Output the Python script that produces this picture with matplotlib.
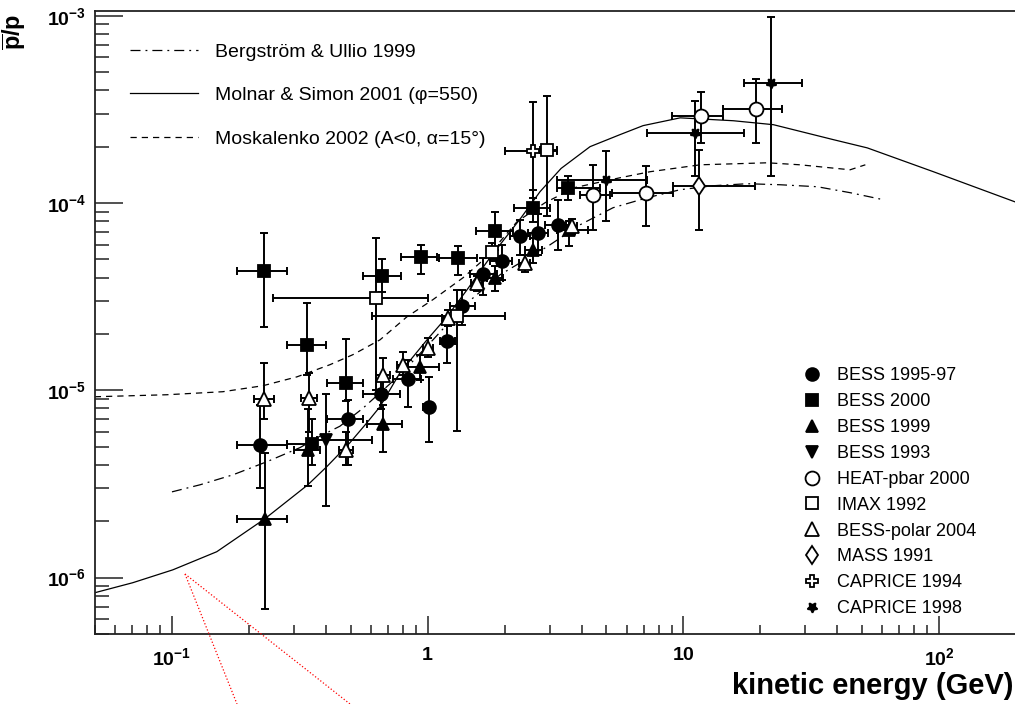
#!/usr/bin/env python3
# antiproton / proton ratio vs kinetic energy, data + three model curves
import numpy as np
import matplotlib
matplotlib.use('Agg')
import matplotlib.pyplot as plt
from matplotlib.lines import Line2D
from matplotlib.ticker import LogLocator, NullFormatter

plt.rcParams['font.family'] = ['Liberation Sans', 'DejaVu Sans']
plt.rcParams['mathtext.fontset'] = 'custom'
plt.rcParams['mathtext.rm'] = 'Liberation Sans'
plt.rcParams['mathtext.it'] = 'Liberation Sans:italic'
plt.rcParams['mathtext.bf'] = 'Liberation Sans:bold'

# ---------------- model curves ----------------
berg_x = [0.1, 0.1287, 0.1733, 0.2353, 0.3163, 0.379, 0.4536, 0.558, 0.779, 1.049, 1.40,
          1.919, 2.93, 3.95, 5.31, 7.22, 9.72, 13.08, 17.77, 23.9, 33.4, 45.0, 60.5]
berg_y = [2.87e-6, 3.13e-6, 3.54e-6, 4.16e-6, 4.94e-6, 5.69e-6, 6.43e-6, 8.02e-6, 1.21e-5,
          1.86e-5, 2.86e-5, 4.14e-5, 5.84e-5, 7.66e-5, 9.44e-5, 1.067e-4, 1.178e-4, 1.237e-4,
          1.268e-4, 1.252e-4, 1.222e-4, 1.135e-4, 1.042e-4]

molnar_x = [0.05, 0.0702, 0.1007, 0.1497, 0.2307, 0.340, 0.403, 0.4965, 0.5786, 0.6507, 0.779,
            0.994, 1.19, 1.425, 1.707, 1.919, 2.318, 2.751, 3.325, 4.317, 5.66, 6.96, 9.72,
            15.7, 22.5, 38.6, 52.4, 95.0, 200.0]
molnar_y = [8.31e-7, 9.39e-7, 1.10e-6, 1.375e-6, 2.06e-6, 3.13e-6, 3.91e-6, 5.25e-6, 6.71e-6,
            8.17e-6, 1.24e-5, 1.86e-5, 2.47e-5, 3.44e-5, 4.86e-5, 5.99e-5, 8.34e-5, 1.15e-4,
            1.53e-4, 2.00e-4, 2.32e-4, 2.59e-4, 2.85e-4, 2.75e-4, 2.62e-4, 2.18e-4, 1.97e-4,
            1.47e-4, 1.01e-4]

mosk_x = [0.0499, 0.0952, 0.158, 0.2267, 0.308, 0.4146, 0.51, 0.651, 0.83, 1.049, 1.375, 1.707,
          2.236, 2.878, 3.77, 5.66, 7.42, 11.64, 21.3, 28.6, 44.9, 51.5]
mosk_y = [9.24e-6, 9.47e-6, 9.83e-6, 1.058e-5, 1.18e-5, 1.37e-5, 1.55e-5, 1.86e-5, 2.47e-5,
          3.05e-5, 3.99e-5, 5.17e-5, 7.95e-5, 1.004e-4, 1.21e-4, 1.365e-4, 1.47e-4, 1.60e-4,
          1.64e-4, 1.60e-4, 1.505e-4, 1.60e-4]

curve_labels = ['Bergström & Ullio 1999', 'Molnar & Simon 2001 (φ=550)',
                'Moskalenko 2002 (A<0, α=15°)']

# ---------------- measurements ----------------
# columns: E, pbar/p, E_low, E_high, ratio_low, ratio_high
bess9597 = np.array([
    [0.221, 5.1e-6, 0.179, 0.281, 3.0e-6, 8.4e-6],
    [0.488, 7.0e-6, 0.404, 0.558, 4.0e-6, 8.9e-6],
    [0.657, 9.6e-6, 0.558, 0.779, 7.9e-6, 1.21e-5],
    [0.837, 1.15e-5, 0.731, 0.941, 8.1e-6, 1.46e-5],
    [1.01, 8.1e-6, 0.958, 1.05, 5.3e-6, 1.18e-5],
    [1.19, 1.84e-5, 1.12, 1.28, 1.40e-5, 2.47e-5],
    [1.36, 2.83e-5, 1.22, 1.53, 2.24e-5, 3.44e-5],
    [1.65, 4.2e-5, 1.46, 1.87, 3.24e-5, 5.1e-5],
    [1.95, 4.9e-5, 1.75, 2.14, 3.9e-5, 6.0e-5],
    [2.30, 6.7e-5, 2.10, 2.51, 5.3e-5, 8.1e-5],
    [2.70, 6.9e-5, 2.47, 2.96, 5.3e-5, 8.7e-5],
    [3.24, 7.6e-5, 2.88, 3.67, 5.6e-5, 1.04e-4],
])
bess2000 = np.array([
    [0.230, 4.35e-5, 0.179, 0.282, 2.19e-5, 6.94e-5],
    [0.338, 1.74e-5, 0.282, 0.402, 1.21e-5, 2.94e-5],
    [0.352, 5.2e-6, 0.281, 0.368, 4.0e-6, 7.0e-6],
    [0.479, 1.10e-5, 0.403, 0.557, 8.8e-6, 1.88e-5],
    [0.661, 4.06e-5, 0.559, 0.786, 3.36e-5, 5.02e-5],
    [0.939, 5.15e-5, 0.786, 1.085, 4.19e-5, 5.99e-5],
    [1.318, 5.09e-5, 1.11, 1.555, 4.15e-5, 5.93e-5],
    [1.834, 7.05e-5, 1.545, 2.163, 5.63e-5, 8.91e-5],
    [2.576, 9.4e-5, 2.177, 3.01, 7.95e-5, 1.18e-4],
    [3.55, 1.20e-4, 3.21, 4.73, 1.04e-4, 1.40e-4],
])
bess1999 = np.array([
    [0.231, 2.06e-6, 0.179, 0.282, 6.8e-7, 4.6e-6],
    [0.341, 4.8e-6, 0.30, 0.38, 3.1e-6, 7.9e-6],
    [0.667, 6.6e-6, 0.577, 0.791, 4.7e-6, 8.4e-6],
    [0.933, 1.34e-5, 0.82, 1.107, 1.14e-5, 1.55e-5],
    [1.83, 3.98e-5, 1.70, 1.97, 3.4e-5, 4.6e-5],
    [2.59, 5.6e-5, 2.40, 2.80, 4.8e-5, 6.5e-5],
    [3.57, 7.2e-5, 3.20, 4.25, 5.9e-5, 8.0e-5],
])
bess1993 = np.array([
    [0.400, 5.45e-6, 0.368, 0.604, 2.42e-6, 9.6e-6],
])
heat2000 = np.array([
    [4.45, 1.11e-4, 3.95, 5.17, 7.2e-5, 1.60e-4],
    [7.15, 1.13e-4, 5.25, 9.15, 7.5e-5, 1.57e-4],
    [11.74, 2.90e-4, 9.02, 14.35, 2.09e-4, 3.91e-4],
    [19.2, 3.18e-4, 14.35, 24.3, 2.09e-4, 4.59e-4],
])
imax1992 = np.array([
    [0.628, 3.12e-5, 0.249, 1.0, 1.01e-5, 6.51e-5],
    [1.30, 2.50e-5, 0.604, 2.007, 6.04e-6, 3.44e-5],
    [1.78, 5.5e-5, 1.70, 1.87, 5.0e-5, 6.1e-5],
    [2.92, 1.93e-4, 2.75, 3.20, 8.48e-5, 3.71e-4],
])
besspolar = np.array([
    [0.229, 9.0e-6, 0.21, 0.25, 7.0e-6, 1.40e-5],
    [0.343, 9.1e-6, 0.32, 0.37, 6.0e-6, 1.24e-5],
    [0.479, 4.8e-6, 0.45, 0.51, 4.0e-6, 6.0e-6],
    [0.667, 1.21e-5, 0.63, 0.71, 1.01e-5, 1.49e-5],
    [0.798, 1.37e-5, 0.76, 0.84, 1.2e-5, 1.6e-5],
    [1.005, 1.68e-5, 0.96, 1.05, 1.5e-5, 1.9e-5],
    [1.20, 2.43e-5, 1.14, 1.26, 2.2e-5, 2.7e-5],
    [1.555, 3.74e-5, 1.48, 1.63, 3.4e-5, 4.1e-5],
    [2.40, 4.78e-5, 2.28, 2.52, 4.3e-5, 5.3e-5],
    [3.66, 7.5e-5, 3.48, 3.85, 6.8e-5, 8.2e-5],
])
mass1991 = np.array([
    [11.56, 1.24e-4, 9.12, 19.1, 7.2e-5, 1.93e-4],
])
caprice1994 = np.array([
    [2.58, 1.89e-4, 2.007, 3.20, 1.07e-4, 3.46e-4],
])
caprice1998 = np.array([
    [4.99, 1.32e-4, 3.20, 7.19, 7.97e-5, 1.89e-4],
    [11.12, 2.37e-4, 7.2, 17.2, 1.39e-4, 3.49e-4],
    [22.0, 4.40e-4, 17.3, 29.1, 1.39e-4, 9.84e-4],
])

series_labels = ['BESS 1995-97', 'BESS 2000', 'BESS 1999', 'BESS 1993', 'HEAT-pbar 2000',
                 'IMAX 1992', 'BESS-polar 2004', 'MASS 1991', 'CAPRICE 1994', 'CAPRICE 1998']

x_ticks = [0.1, 1, 10, 100]
x_tick_labels = [r'$\mathbf{10^{-1}}$', r'$\mathbf{1}$', r'$\mathbf{10}$', r'$\mathbf{10^{2}}$']
y_ticks = [1e-6, 1e-5, 1e-4, 1e-3]
y_tick_labels = [r'$\mathbf{10^{-6}}$', r'$\mathbf{10^{-5}}$', r'$\mathbf{10^{-4}}$',
                 r'$\mathbf{10^{-3}}$']


def draw_series(ax, d, marker, ms, face):
    x, y = d[:, 0], d[:, 1]
    xerr = [x - d[:, 2], d[:, 3] - x]
    yerr = [y - d[:, 4], d[:, 5] - y]
    ax.errorbar(x, y, xerr=xerr, yerr=yerr, fmt='none', ecolor='black',
                elinewidth=1.4, capsize=3.2, capthick=1.4, zorder=3)
    ax.plot(x, y, ls='none', marker=marker, ms=ms, mfc=face, mec='black',
            mew=1.3, zorder=4)


def main():
    fig = plt.figure(figsize=(10.15, 7.04), dpi=100)
    ax = fig.add_axes([95 / 1015, 70 / 704, 921 / 1015, 623 / 704])
    ax.set_xscale('log')
    ax.set_yscale('log')
    ax.set_xlim(0.05, 200)
    ax.set_ylim(5e-7, 1.06e-3)

    # model curves
    ls_dashdot = (0, (8, 4, 1.5, 4))
    ls_dash = (0, (5, 4))
    ax.plot(berg_x, berg_y, color='black', lw=0.9, ls=ls_dashdot, zorder=2)
    ax.plot(molnar_x, molnar_y, color='black', lw=0.9, ls='-', zorder=2)
    ax.plot(mosk_x, mosk_y, color='black', lw=0.9, ls=ls_dash, zorder=2)

    # data
    styles = [
        (bess9597, 'o', 9.2, 'black'),
        (bess2000, 's', 9.2, 'black'),
        (bess1999, '^', 9.0, 'black'),
        (bess1993, 'v', 9.0, 'black'),
        (heat2000, 'o', 10.0, 'white'),
        (imax1992, 's', 9.2, 'white'),
        (besspolar, '^', 9.4, 'white'),
        (mass1991, 'd', 9.4, 'white'),
        (caprice1994, 'P', 8.0, 'white'),
        (caprice1998, (5, 1, 180), 7.5, 'black'),
    ]
    for d, m, ms, fc in styles:
        draw_series(ax, d, m, ms, fc)

    # axes look
    for s in ['left', 'bottom', 'top']:
        ax.spines[s].set_linewidth(1.3)
        ax.spines[s].set_color('#222222')
    ax.spines['right'].set_visible(False)
    ax.set_xticks(x_ticks)
    ax.set_xticklabels(x_tick_labels)
    ax.set_yticks(y_ticks)
    ax.set_yticklabels(y_tick_labels)
    ax.xaxis.set_minor_locator(LogLocator(base=10, subs=np.arange(2, 10), numticks=30))
    ax.yaxis.set_minor_locator(LogLocator(base=10, subs=np.arange(2, 10), numticks=30))
    ax.xaxis.set_minor_formatter(NullFormatter())
    ax.yaxis.set_minor_formatter(NullFormatter())
    ax.tick_params(which='both', direction='in', top=False, right=False,
                   color='#222222', width=1.1, labelsize=14)
    ax.tick_params(axis='y', which='major', length=20, pad=6.5)
    ax.tick_params(axis='y', which='minor', length=10)
    ax.tick_params(axis='x', which='major', length=13, pad=9.5)
    ax.tick_params(axis='x', which='minor', length=6.5)

    # legends
    line_handles = [Line2D([], [], color='black', lw=0.9, ls=ls_dashdot),
                    Line2D([], [], color='black', lw=0.9, ls='-'),
                    Line2D([], [], color='black', lw=0.9, ls=ls_dash)]
    leg1 = ax.legend(line_handles, curve_labels, loc='upper left',
                     bbox_to_anchor=(0.038, 0.948), frameon=False, fontsize=14,
                     handlelength=3.5, handletextpad=0.85, labelspacing=1.32,
                     borderpad=0, borderaxespad=0)
    ax.add_artist(leg1)

    mk_handles = [Line2D([], [], ls='none', marker=m, ms=ms, mfc=fc, mec='black', mew=1.3)
                  for d, m, ms, fc in styles]
    ax.legend(mk_handles, series_labels, loc='upper left',
              bbox_to_anchor=(0.7676, 0.4278), frameon=False, fontsize=13,
              handlelength=1.1, handletextpad=0.85, labelspacing=0.49,
              borderpad=0, borderaxespad=0)

    # axis titles
    fig.text(1013 / 1015, 1 - 686 / 704, 'kinetic energy (GeV)', fontsize=21,
             fontweight='bold', ha='right', va='center')
    fig.text(14 / 1015, 1 - 32 / 704, r'$\mathbf{\overline{p}/p}$', fontsize=17,
             rotation=90, ha='center', va='center')

    # red dotted guide lines below the frame
    for x_end in (237, 350):
        fig.add_artist(Line2D([185 / 1015, x_end / 1015], [1 - 574 / 704, 0.0],
                              color='red', ls=':', lw=0.9))

    fig.savefig('out.png', dpi=100)


if __name__ == '__main__':
    main()
